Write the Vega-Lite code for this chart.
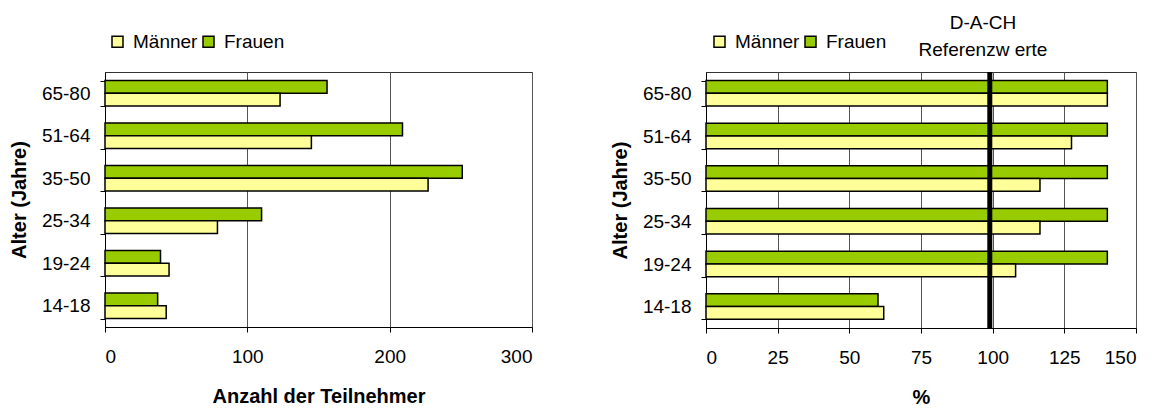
{
  "$schema": "https://vega.github.io/schema/vega-lite/v6.json",
  "background": "white",
  "padding": {"left": 8, "top": 13, "right": 5, "bottom": 0},
  "config": {
    "font": "Liberation Sans",
    "view": {"stroke": "#333", "strokeWidth": 1},
    "axis": {
      "labelFont": "Liberation Sans", "titleFont": "Liberation Sans",
      "labelFontSize": 19, "titleFontSize": 20, "titleFontWeight": "bold",
      "labelColor": "#000", "titleColor": "#000",
      "domainColor": "#000", "tickColor": "#000", "tickSize": 5
    },
    "legend": {
      "labelFont": "Liberation Sans", "labelFontSize": 19, "labelColor": "#000",
      "symbolType": "square", "symbolSize": 121, "symbolStrokeColor": "#000",
      "symbolStrokeWidth": 1.5, "symbolOpacity": 1, "columnPadding": 1, "labelOffset": 6
    },
    "concat": {"spacing": 76}
  },
  "datasets": {
    "teilnehmer": [
      {"Alter": "65-80", "Geschlecht": "Frauen", "Anzahl": 156},
      {"Alter": "65-80", "Geschlecht": "Männer", "Anzahl": 123},
      {"Alter": "51-64", "Geschlecht": "Frauen", "Anzahl": 209},
      {"Alter": "51-64", "Geschlecht": "Männer", "Anzahl": 145},
      {"Alter": "35-50", "Geschlecht": "Frauen", "Anzahl": 251},
      {"Alter": "35-50", "Geschlecht": "Männer", "Anzahl": 227},
      {"Alter": "25-34", "Geschlecht": "Frauen", "Anzahl": 110},
      {"Alter": "25-34", "Geschlecht": "Männer", "Anzahl": 79},
      {"Alter": "19-24", "Geschlecht": "Frauen", "Anzahl": 39},
      {"Alter": "19-24", "Geschlecht": "Männer", "Anzahl": 45},
      {"Alter": "14-18", "Geschlecht": "Frauen", "Anzahl": 37},
      {"Alter": "14-18", "Geschlecht": "Männer", "Anzahl": 43}
    ],
    "prozent": [
      {"Alter": "65-80", "Geschlecht": "Frauen", "Prozent": 140},
      {"Alter": "65-80", "Geschlecht": "Männer", "Prozent": 140},
      {"Alter": "51-64", "Geschlecht": "Frauen", "Prozent": 140},
      {"Alter": "51-64", "Geschlecht": "Männer", "Prozent": 127.5},
      {"Alter": "35-50", "Geschlecht": "Frauen", "Prozent": 140},
      {"Alter": "35-50", "Geschlecht": "Männer", "Prozent": 116.5},
      {"Alter": "25-34", "Geschlecht": "Frauen", "Prozent": 140},
      {"Alter": "25-34", "Geschlecht": "Männer", "Prozent": 116.5},
      {"Alter": "19-24", "Geschlecht": "Frauen", "Prozent": 140},
      {"Alter": "19-24", "Geschlecht": "Männer", "Prozent": 108},
      {"Alter": "14-18", "Geschlecht": "Frauen", "Prozent": 60},
      {"Alter": "14-18", "Geschlecht": "Männer", "Prozent": 62}
    ],
    "referenz": [{"Referenz": 99}]
  },
  "hconcat": [
    {
      "width": 427,
      "height": 255,
      "data": {"name": "teilnehmer"},
      "mark": {"type": "bar", "stroke": "#000", "strokeWidth": 1.5},
      "encoding": {
        "y": {
          "field": "Alter", "type": "nominal",
          "sort": ["65-80", "51-64", "35-50", "25-34", "19-24", "14-18"],
          "scale": {"paddingInner": 0.4, "paddingOuter": 0.2},
          "axis": {"title": "Alter (Jahre)", "tickBand": "extent", "labelPadding": 10, "titlePadding": 12, "grid": false}
        },
        "yOffset": {"field": "Geschlecht", "type": "nominal", "sort": ["Frauen", "Männer"]},
        "x": {
          "field": "Anzahl", "type": "quantitative",
          "scale": {"domain": [0, 300], "nice": false},
          "axis": {"values": [0, 100, 200, 300], "title": "Anzahl der Teilnehmer", "grid": true, "gridColor": "#555", "gridOpacity": 1, "labelPadding": 15, "titlePadding": 20}
        },
        "color": {
          "field": "Geschlecht", "type": "nominal",
          "scale": {"domain": ["Männer", "Frauen"], "range": ["#FFFF99", "#99CC00"]},
          "legend": {"title": null, "orient": "none", "legendX": 3, "legendY": -40, "direction": "horizontal"}
        }
      }
    },
    {
      "width": 430,
      "height": 256,
      "title": {
        "text": ["D-A-CH", "Referenzw erte"], "anchor": "middle", "frame": "group", "dx": 62,
        "fontSize": 19, "fontWeight": "normal", "font": "Liberation Sans", "lineHeight": 27,
        "offset": -28, "color": "#000"
      },
      "layer": [
        {
          "data": {"name": "prozent"},
          "mark": {"type": "bar", "stroke": "#000", "strokeWidth": 1.5},
          "encoding": {
            "y": {
              "field": "Alter", "type": "nominal",
              "sort": ["65-80", "51-64", "35-50", "25-34", "19-24", "14-18"],
              "scale": {"paddingInner": 0.4, "paddingOuter": 0.2},
              "axis": {"title": "Alter (Jahre)", "tickBand": "extent", "labelPadding": 10, "titlePadding": 12, "grid": false}
            },
            "yOffset": {"field": "Geschlecht", "type": "nominal", "sort": ["Frauen", "Männer"]},
            "x": {
              "field": "Prozent", "type": "quantitative",
              "scale": {"domain": [0, 150], "nice": false},
              "axis": {"values": [0, 25, 50, 75, 100, 125, 150], "title": "%", "grid": true, "gridColor": "#555", "gridOpacity": 1, "labelPadding": 15, "titlePadding": 20}
            },
            "color": {
              "field": "Geschlecht", "type": "nominal",
              "scale": {"domain": ["Männer", "Frauen"], "range": ["#FFFF99", "#99CC00"]},
              "legend": {"title": null, "orient": "none", "legendX": 4, "legendY": -40, "direction": "horizontal"}
            }
          }
        },
        {
          "data": {"name": "referenz"},
          "mark": {"type": "rule", "color": "#000", "strokeWidth": 5, "y2Offset": 9},
          "encoding": {
            "x": {"field": "Referenz", "type": "quantitative"}
          }
        }
      ]
    }
  ],
  "resolve": {"scale": {"color": "independent"}, "legend": {"color": "independent"}}
}
